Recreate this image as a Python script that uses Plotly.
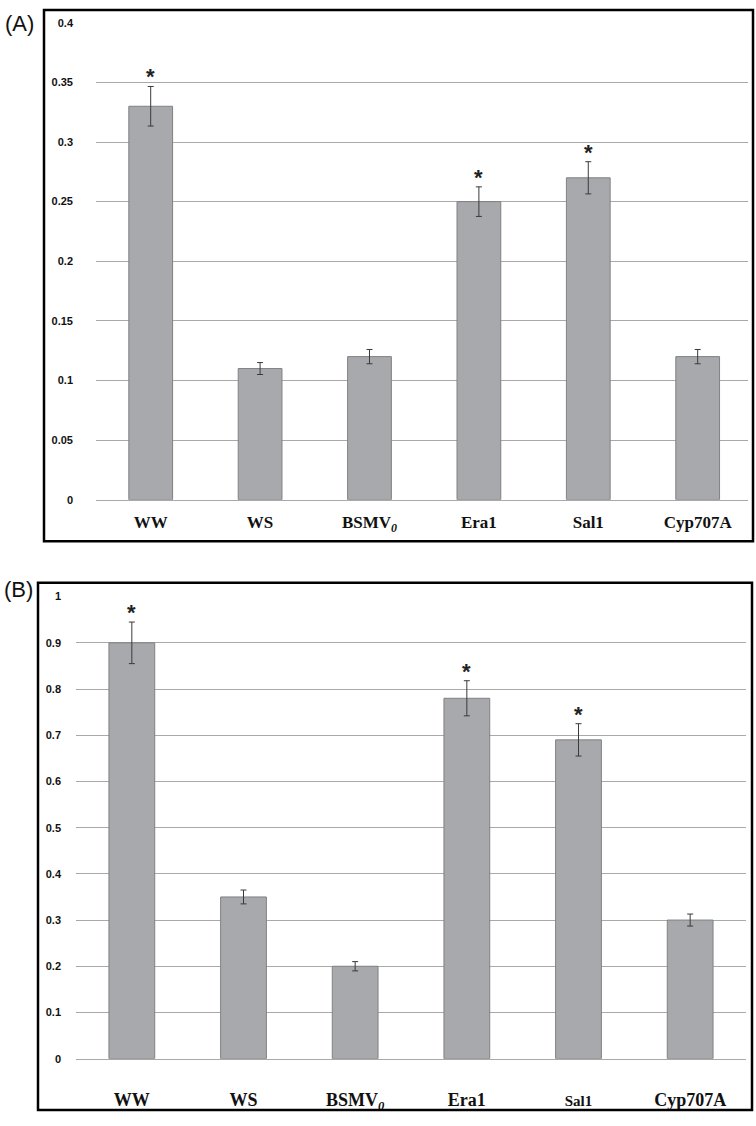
import plotly.graph_objects as go

W, H = 756, 1126

categories = ["WW", "WS", "BSMV0", "Era1", "Sal1", "Cyp707A"]
tick_labels_a = ["<b>WW</b>", "<b>WS</b>", "<b>BSMV<sub><i>0</i></sub></b>", "<b>Era1</b>", "<b>Sal1</b>", "<b>Cyp707A</b>"]
tick_labels_b = ["<b>WW</b>", "<b>WS</b>", "<b>BSMV<sub><i>0</i></sub></b>", "<b>Era1</b>",
                 "<span style='font-size:15px'><b>Sal1</b></span>", "<b>Cyp707A</b>"]

values_a = [0.33, 0.11, 0.12, 0.25, 0.27, 0.12]
errors_a = [0.0166, 0.005, 0.006, 0.0124, 0.0135, 0.006]
signif_a = [True, False, False, True, True, False]

values_b = [0.90, 0.35, 0.20, 0.78, 0.69, 0.30]
errors_b = [0.045, 0.015, 0.010, 0.038, 0.035, 0.013]
signif_b = [True, False, False, True, True, False]

yticks_a = [0, 0.05, 0.1, 0.15, 0.2, 0.25, 0.3, 0.35, 0.4]
yticks_b = [0, 0.1, 0.2, 0.3, 0.4, 0.5, 0.6, 0.7, 0.8, 0.9, 1]

BAR = "#a8a9ac"
BAR_LINE = "#808184"
GRID = "#a9a9a9"

def px_x(p):
    return p / W

def px_y(p):
    return 1 - p / H

fig = go.Figure()

fig.add_trace(go.Bar(
    x=categories, y=values_a, width=0.40,
    marker=dict(color=BAR, line=dict(color=BAR_LINE, width=1)),
    error_y=dict(type="data", array=errors_a, color="#3a3a3a", thickness=1, width=3),
    xaxis="x", yaxis="y", showlegend=False, hoverinfo="skip",
))
fig.add_trace(go.Bar(
    x=categories, y=values_b, width=0.41,
    marker=dict(color=BAR, line=dict(color=BAR_LINE, width=1)),
    error_y=dict(type="data", array=errors_b, color="#3a3a3a", thickness=1, width=3),
    xaxis="x2", yaxis="y2", showlegend=False, hoverinfo="skip",
))

tickfont = dict(family="Liberation Sans, Arial", size=11, color="#111111")
fig.update_layout(
    width=W, height=H,
    margin=dict(l=0, r=0, t=0, b=0),
    paper_bgcolor="white", plot_bgcolor="white",
    xaxis=dict(
        domain=[px_x(96), px_x(748)], range=[-0.5, 5.46],
        tickvals=categories, ticktext=tick_labels_a,
        tickfont=dict(family="Liberation Serif, Times New Roman", size=17, color="#111111"),
        showgrid=False, zeroline=False, showline=True, linecolor=GRID, linewidth=1, ticks="",
        ticklabelstandoff=7, anchor="y",
    ),
    yaxis=dict(
        domain=[px_y(499), px_y(17)], range=[0, 0.4],
        tickvals=yticks_a, ticktext=[f"<b>{v:g}</b>" for v in yticks_a],
        tickfont=tickfont, showgrid=True, gridcolor=GRID, gridwidth=1,
        zeroline=False, showline=False, ticks="", ticklabelstandoff=22, anchor="x",
    ),
    xaxis2=dict(
        domain=[px_x(76), px_x(746)], range=[-0.5, 5.5],
        tickvals=categories, ticktext=tick_labels_b,
        tickfont=dict(family="Liberation Serif, Times New Roman", size=18, color="#111111"),
        showgrid=False, zeroline=False, showline=True, linecolor=GRID, linewidth=1, ticks="",
        ticklabelstandoff=25, anchor="y2",
    ),
    yaxis2=dict(
        domain=[px_y(1064), px_y(597)], range=[0, 1],
        tickvals=yticks_b, ticktext=[f"<b>{v:g}</b>" for v in yticks_b],
        tickfont=tickfont, showgrid=True, gridcolor=GRID, gridwidth=1,
        zeroline=False, showline=False, ticks="", ticklabelstandoff=14, anchor="x2",
    ),
)

# significance asterisks
annotations = []
for c, v, e, s in zip(categories, values_a, errors_a, signif_a):
    if s:
        annotations.append(dict(x=c, y=v + e, xref="x", yref="y", text="<b>*</b>",
                                showarrow=False, yanchor="bottom", yshift=-5,
                                font=dict(family="Liberation Sans, Arial", size=22, color="#222")))
for c, v, e, s in zip(categories, values_b, errors_b, signif_b):
    if s:
        annotations.append(dict(x=c, y=v + e, xref="x2", yref="y2", text="<b>*</b>",
                                showarrow=False, yanchor="bottom", yshift=-5,
                                font=dict(family="Liberation Sans, Arial", size=22, color="#222")))

annotations.append(dict(x=px_x(19), y=px_y(18), xref="paper", yref="paper", text="(A)",
                        showarrow=False, xanchor="center", yanchor="middle",
                        font=dict(family="Liberation Sans, Arial", size=22, color="#111")))
annotations.append(dict(x=px_x(18), y=px_y(590), xref="paper", yref="paper", text="(B)",
                        showarrow=False, xanchor="center", yanchor="middle",
                        font=dict(family="Liberation Sans, Arial", size=22, color="#111")))
fig.update_layout(annotations=annotations)

shapes = [
    dict(type="rect", xref="paper", yref="paper", x0=px_x(44), x1=px_x(753), y0=px_y(541), y1=px_y(4),
         line=dict(color="black", width=2.5)),
    dict(type="rect", xref="paper", yref="paper", x0=px_x(38), x1=px_x(752), y0=px_y(1116), y1=px_y(583),
         line=dict(color="black", width=2.5)),
]
fig.update_layout(shapes=shapes)

fig.write_html("out.html", config={"displayModeBar": False},
               post_script="document.body.style.margin='0';document.body.style.overflow='hidden';")
